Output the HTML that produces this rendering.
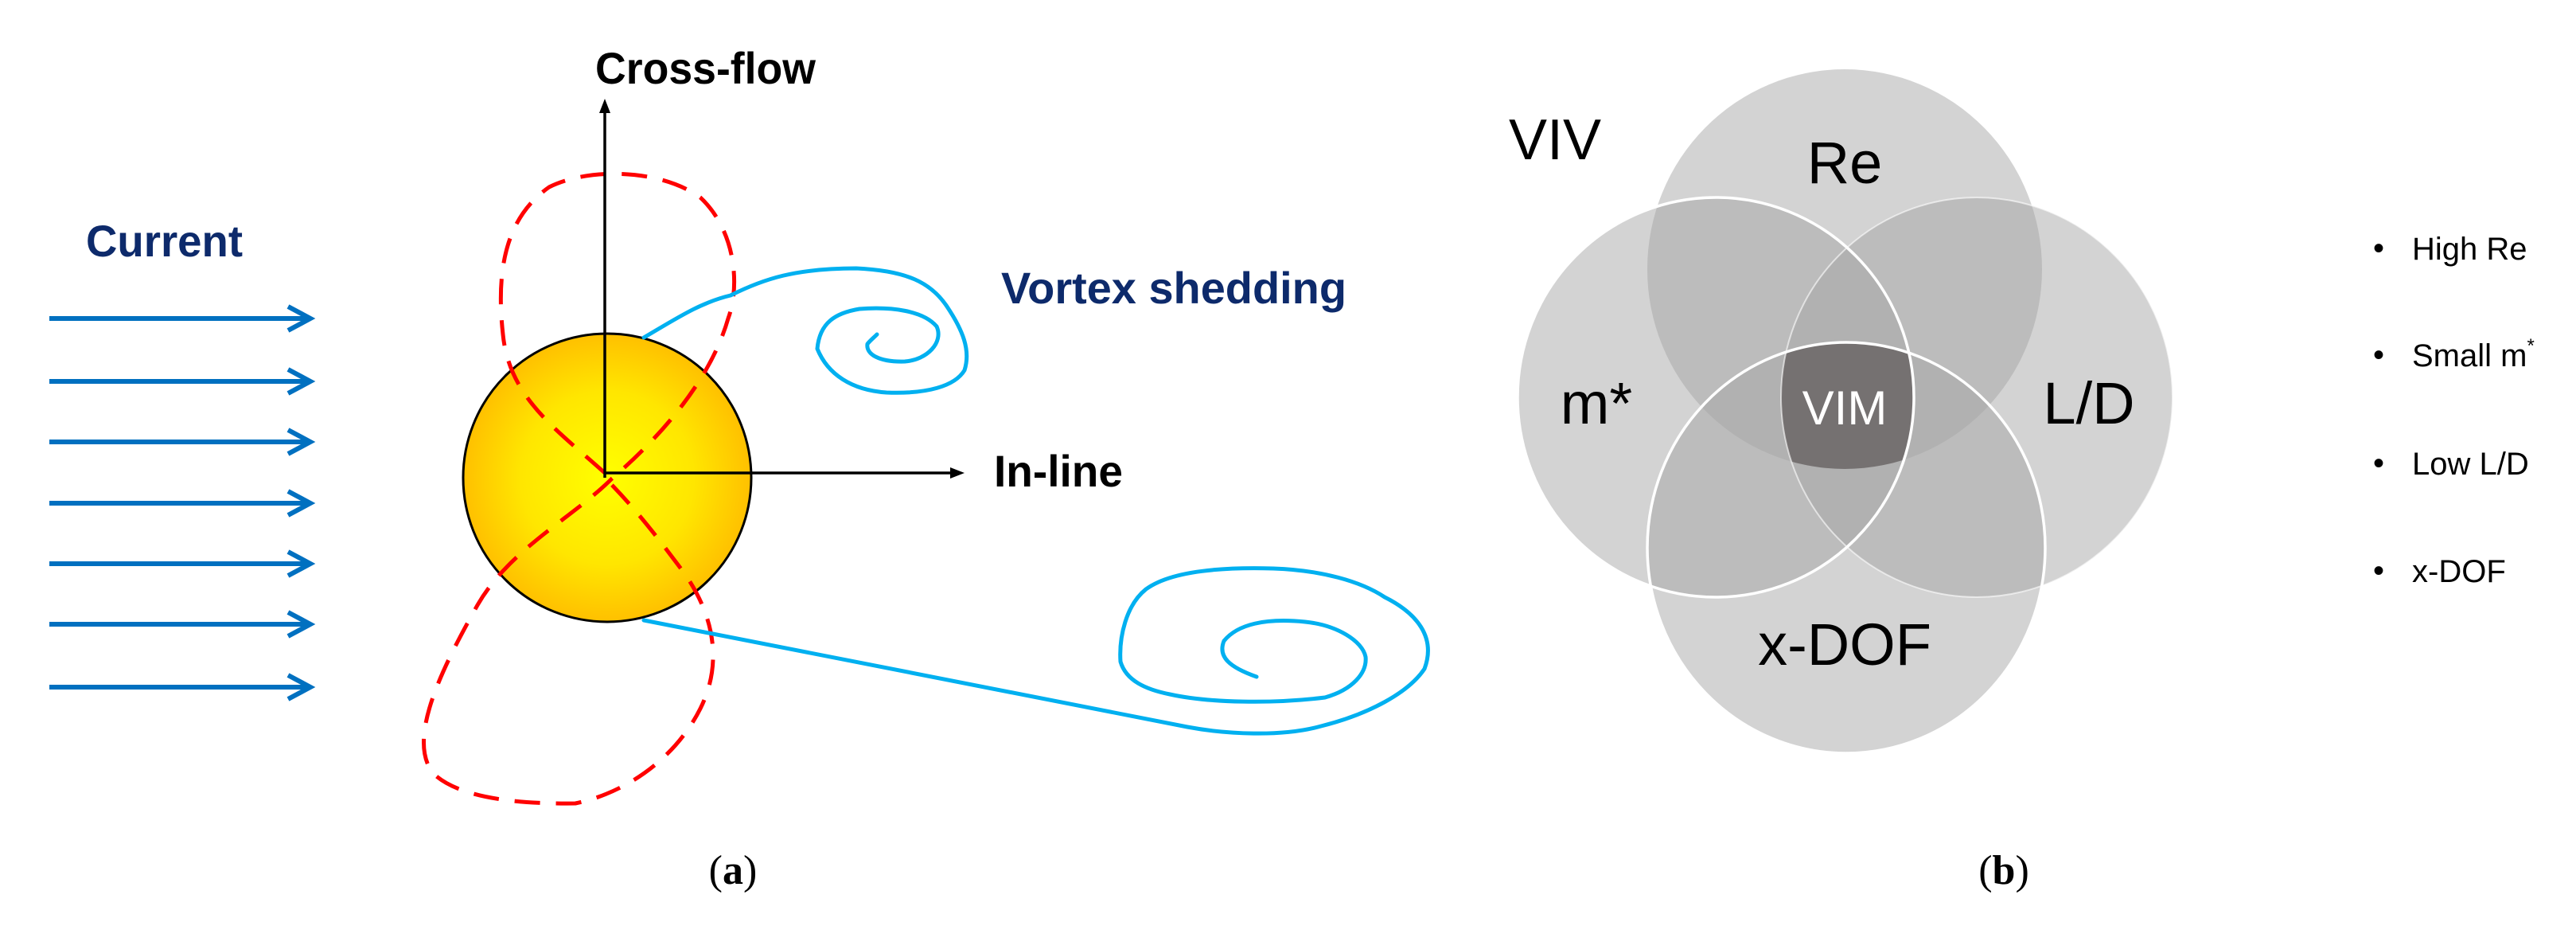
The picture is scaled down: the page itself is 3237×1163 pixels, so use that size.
<!DOCTYPE html>
<html><head><meta charset="utf-8"><style>
html,body{margin:0;padding:0;background:#fff;}
svg{display:block;}
</style></head><body>
<svg width="3237" height="1163" viewBox="0 0 3237 1163" xmlns="http://www.w3.org/2000/svg">
<defs>
<radialGradient id="sun" cx="0.5" cy="0.5" r="0.5">
<stop offset="0" stop-color="#ffff00"/><stop offset="0.6" stop-color="#ffe600"/><stop offset="1" stop-color="#ffc000"/>
</radialGradient>
<clipPath id="cRe"><ellipse cx="2318" cy="338" rx="248" ry="251"/></clipPath>
<clipPath id="cM"><ellipse cx="2156" cy="499" rx="249" ry="251"/></clipPath>
<clipPath id="cL"><ellipse cx="2484" cy="499" rx="246" ry="251"/></clipPath>
<clipPath id="cX"><ellipse cx="2320" cy="688" rx="250" ry="258"/></clipPath>
</defs>

<!-- Current arrows -->
<g stroke="#0070c0" stroke-width="6" fill="none">
<line x1="62" y1="400" x2="388" y2="400"/><polyline points="362,385 390,400 362,415"/>
<line x1="62" y1="479" x2="388" y2="479"/><polyline points="362,464 390,479 362,494"/>
<line x1="62" y1="555" x2="388" y2="555"/><polyline points="362,540 390,555 362,570"/>
<line x1="62" y1="632" x2="388" y2="632"/><polyline points="362,617 390,632 362,647"/>
<line x1="62" y1="708" x2="388" y2="708"/><polyline points="362,693 390,708 362,723"/>
<line x1="62" y1="784" x2="388" y2="784"/><polyline points="362,769 390,784 362,799"/>
<line x1="62" y1="863" x2="388" y2="863"/><polyline points="362,848 390,863 362,878"/>
</g>
<text x="108" y="322" font-family="Liberation Sans, sans-serif" font-weight="bold" font-size="56" fill="#0d2a6b" textLength="197" lengthAdjust="spacingAndGlyphs">Current</text>

<!-- cylinder -->
<circle cx="763" cy="600" r="181" fill="url(#sun)" stroke="#000" stroke-width="3"/>

<!-- red dashed figure 8 -->
<path d="M760,594 C700,540 640,500 632,420 C622,330 640,270 690,235 C740,210 830,212 880,248 C925,290 930,360 915,400 C895,470 840,540 769,601 C720,650 640,690 600,760 C555,840 510,930 545,972 C575,1000 640,1010 723,1009 C790,995 850,950 880,890 C910,830 895,770 860,720 C830,680 800,640 760,600" fill="none" stroke="#ff0000" stroke-width="5" stroke-dasharray="32,20"/>

<!-- axes -->
<g stroke="#000" stroke-width="3.5">
<line x1="760" y1="600" x2="760" y2="140"/>
<line x1="760" y1="594" x2="1196" y2="594"/>
</g>
<polygon points="760,124 753,142 767,142" fill="#000"/>
<polygon points="1212,594 1194,587 1194,601" fill="#000"/>
<text x="748" y="105" font-family="Liberation Sans, sans-serif" font-weight="bold" font-size="56" fill="#000" textLength="277" lengthAdjust="spacingAndGlyphs">Cross-flow</text>
<text x="1249" y="611" font-family="Liberation Sans, sans-serif" font-weight="bold" font-size="56" fill="#000" textLength="162" lengthAdjust="spacingAndGlyphs">In-line</text>
<text x="1258" y="381" font-family="Liberation Sans, sans-serif" font-weight="bold" font-size="56" fill="#0d2a6b" textLength="434" lengthAdjust="spacingAndGlyphs">Vortex shedding</text>

<!-- blue spirals -->
<g fill="none" stroke="#00b0f0" stroke-width="5" stroke-linecap="round" stroke-linejoin="round">
<path d="M809,424 C850,400 880,380 918,371 C960,350 1000,337 1076,337 C1140,340 1170,355 1190,385 C1210,415 1220,440 1212,465 C1200,485 1165,495 1114,493 C1070,490 1040,470 1027,438 C1030,405 1050,393 1080,388 C1120,385 1160,390 1177,410 C1186,430 1165,452 1137,454 C1105,455 1088,445 1090,432 C1093,428 1098,424 1102,420"/>
<path d="M809,779 L1492,913 C1540,922 1610,926 1660,912 C1720,897 1770,870 1790,840 C1805,800 1780,770 1740,750 C1710,730 1660,716 1600,714 C1530,712 1470,718 1440,740 C1415,760 1406,800 1408,831 C1415,855 1440,866 1470,872 C1520,883 1600,884 1665,876 C1700,866 1718,845 1716,825 C1712,805 1680,785 1640,781 C1590,776 1555,784 1538,805 C1530,825 1545,838 1579,850"/>
</g>

<text x="921" y="1110" font-family="Liberation Serif, serif" font-size="52" text-anchor="middle" fill="#000">(<tspan font-weight="bold">a</tspan>)</text>

<!-- Venn -->
<g>
<ellipse cx="2318" cy="338" rx="248" ry="251" fill="#d3d3d3"/>
<ellipse cx="2156" cy="499" rx="249" ry="251" fill="#d3d3d3"/>
<ellipse cx="2484" cy="499" rx="246" ry="251" fill="#d3d3d3"/>
<ellipse cx="2320" cy="688" rx="250" ry="258" fill="#d3d3d3"/>
<g fill="#bcbcbc">
<g clip-path="url(#cRe)"><ellipse cx="2156" cy="499" rx="249" ry="251"/><ellipse cx="2484" cy="499" rx="246" ry="251"/><ellipse cx="2320" cy="688" rx="250" ry="258"/></g>
<g clip-path="url(#cX)"><ellipse cx="2156" cy="499" rx="249" ry="251"/><ellipse cx="2484" cy="499" rx="246" ry="251"/></g>
<g clip-path="url(#cM)"><ellipse cx="2484" cy="499" rx="246" ry="251"/></g>
</g>
<g fill="#b1b1b1">
<g clip-path="url(#cRe)"><g clip-path="url(#cM)"><ellipse cx="2484" cy="499" rx="246" ry="251"/><ellipse cx="2320" cy="688" rx="250" ry="258"/></g></g>
<g clip-path="url(#cRe)"><g clip-path="url(#cL)"><ellipse cx="2320" cy="688" rx="250" ry="258"/></g></g>
<g clip-path="url(#cX)"><g clip-path="url(#cM)"><ellipse cx="2484" cy="499" rx="246" ry="251"/></g></g>
</g>
<g clip-path="url(#cRe)"><g clip-path="url(#cM)"><g clip-path="url(#cL)"><ellipse cx="2320" cy="688" rx="250" ry="258" fill="#757171"/></g></g></g>
<g fill="none" stroke="#fff" stroke-width="3.5">
<ellipse cx="2156" cy="499" rx="249" ry="251"/>
<ellipse cx="2320" cy="688" rx="250" ry="258"/>
</g>
<g fill="none" stroke="#fff" stroke-width="2" opacity="0.6">
<ellipse cx="2484" cy="499" rx="246" ry="251"/>
</g>
</g>
<g font-family="Liberation Sans, sans-serif" fill="#000">
<text x="1896" y="200" font-size="72">VIV</text>
<text x="2318" y="230" font-size="74" text-anchor="middle">Re</text>
<text x="2006" y="532" font-size="74" text-anchor="middle">m*</text>
<text x="2625" y="532" font-size="74" text-anchor="middle">L/D</text>
<text x="2318" y="533" font-size="60" text-anchor="middle" fill="#fff">VIM</text>
<text x="2318" y="835" font-size="74" text-anchor="middle">x-DOF</text>
</g>
<g font-family="Liberation Sans, sans-serif" font-size="40" fill="#000">
<text x="2982" y="325">•</text><text x="3031" y="326">High Re</text>
<text x="2982" y="459">•</text><text x="3031" y="460">Small m<tspan font-size="24" dy="-18">*</tspan></text>
<text x="2982" y="595">•</text><text x="3031" y="596">Low L/D</text>
<text x="2982" y="730">•</text><text x="3031" y="731">x-DOF</text>
</g>
<text x="2518" y="1110" font-family="Liberation Serif, serif" font-size="52" text-anchor="middle" fill="#000">(<tspan font-weight="bold">b</tspan>)</text>
</svg>
</body></html>
